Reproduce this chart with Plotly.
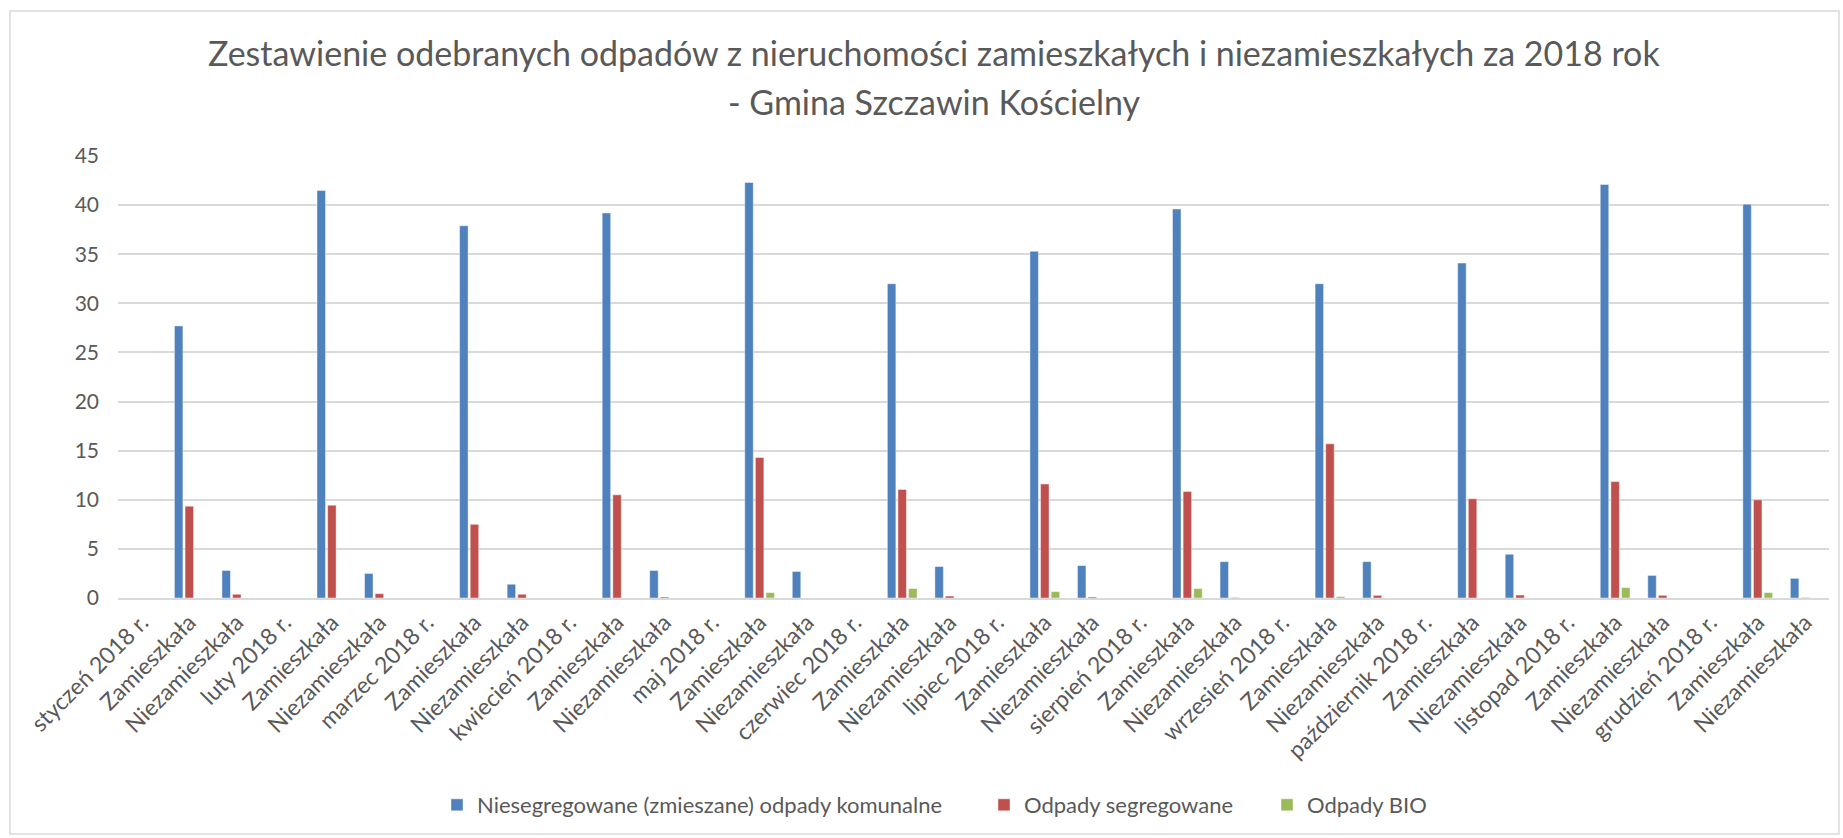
import plotly.graph_objects as go

months = ["styczeń", "luty", "marzec", "kwiecień", "maj", "czerwiec",
          "lipiec", "sierpień", "wrzesień", "październik", "listopad", "grudzień"]

# values per month: (Zamieszkała, Niezamieszkała)
niesegregowane = [(27.7, 2.8), (41.5, 2.5), (37.9, 1.4), (39.2, 2.8), (42.3, 2.7), (32.0, 3.2),
                  (35.3, 3.3), (39.6, 3.7), (32.0, 3.7), (34.1, 4.45), (42.1, 2.3), (40.1, 2.0)]
segregowane = [(9.35, 0.38), (9.45, 0.44), (7.5, 0.38), (10.5, 0.1), (14.3, 0.0), (11.05, 0.2),
               (11.6, 0.1), (10.85, 0.05), (15.7, 0.27), (10.1, 0.3), (11.85, 0.27), (10.0, 0.05)]
bio = [(0, 0), (0, 0), (0, 0), (0, 0), (0.55, 0), (0.96, 0),
       (0.65, 0), (0.96, 0), (0.15, 0), (0, 0), (1.06, 0), (0.55, 0)]

series_names = ["Niesegregowane (zmieszane) odpady komunalne", "Odpady segregowane", "Odpady BIO"]
series_colors = ["#4F81BD", "#C0504D", "#9BBB59"]

title_lines = ["Zestawienie odebranych odpadów z nieruchomości zamieszkałych i niezamieszkałych za 2018 rok",
               "- Gmina Szczawin Kościelny"]

labels = []
for m in months:
    labels += [f"{m} 2018 r.", "Zamieszkała", "Niezamieszkała"]

def expand(vals):
    out = []
    for z, n in vals:
        out += [None, z, n]
    return out

xs = list(range(len(labels)))

W, H = 1843, 838
L, R, T, B = 118, 14, 156, 240
pw, ph = W - L - R, H - T - B
def px(x):
    return (x - L) / pw
def py(y):
    return (H - B - y) / ph

fig = go.Figure()
legend_keys = ["legend", "legend2", "legend3"]
for name, col, vals, lk in zip(series_names, series_colors, [niesegregowane, segregowane, bio], legend_keys):
    fig.add_trace(go.Bar(x=xs, y=expand(vals), name=name, legend=lk, showlegend=True,
                         marker=dict(color=col, line=dict(color="rgba(255,255,255,0.55)", width=0.8))))

FONT = "Lato"
TXT = "#595959"
leg_common = dict(orientation="h", yanchor="middle", xanchor="left", y=py(805), visible=True,
                  font=dict(family=FONT, size=22, color=TXT), bgcolor="rgba(0,0,0,0)")
fig.update_layout(
    width=W, height=H,
    margin=dict(l=L, r=R, t=T, b=B, autoexpand=False),
    showlegend=True,
    paper_bgcolor="white", plot_bgcolor="white",
    barmode="group", bargap=0.33, bargroupgap=0.2,
    font=dict(family=FONT, color=TXT),
    legend=dict(x=px(437), **leg_common),
    legend2=dict(x=px(984), **leg_common),
    legend3=dict(x=px(1267), **leg_common),
    xaxis=dict(range=[-0.5, len(labels) - 0.5], tickmode="array", tickvals=xs, ticktext=labels,
               tickangle=-45, tickfont=dict(family=FONT, size=23, color=TXT),
               showgrid=False, showline=True, linecolor="#D9D9D9", linewidth=2, ticks="",
               zeroline=False),
    yaxis=dict(range=[0, 45], tickmode="linear", dtick=5, tick0=0,
               tickfont=dict(family=FONT, size=21, color=TXT),
               showgrid=True, gridcolor="#D9D9D9", gridwidth=1.5, zeroline=False,
               showline=False, ticks="", ticklabelstandoff=18),
    annotations=[
        dict(text=title_lines[0], xref="paper", yref="paper", x=px(934), y=py(53),
             xanchor="center", yanchor="middle", showarrow=False,
             font=dict(family=FONT, size=34, color=TXT)),
        dict(text=title_lines[1], xref="paper", yref="paper", x=px(934), y=py(101),
             xanchor="center", yanchor="middle", showarrow=False,
             font=dict(family=FONT, size=34, color=TXT)),
    ],
    shapes=[dict(type="rect", xref="paper", yref="paper", x0=px(10), x1=px(1839), y0=py(834), y1=py(11),
                 line=dict(color="#D9D9D9", width=1.5), fillcolor="rgba(0,0,0,0)", layer="below")],
)

fig.write_html("out.html", config={"displayModeBar": False},
               post_script="document.body.style.margin='0px';document.body.style.overflow='hidden';")
